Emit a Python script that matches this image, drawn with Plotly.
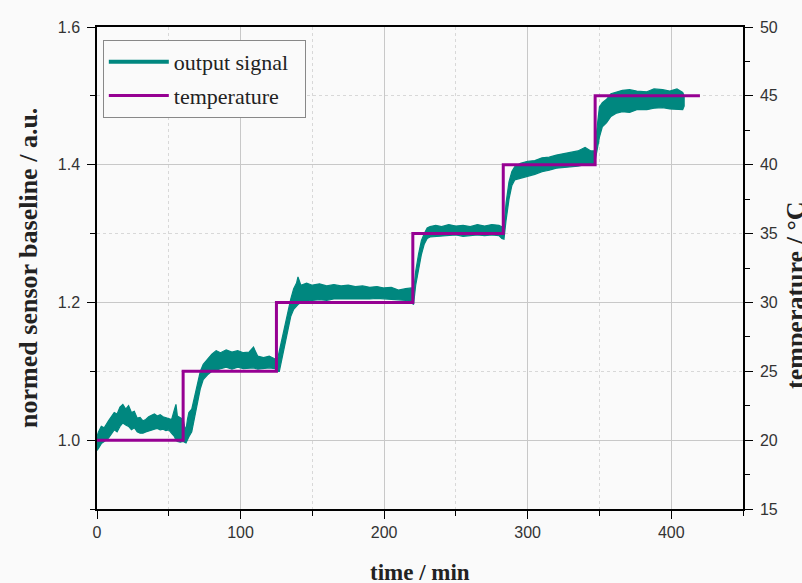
import plotly.graph_objects as go

# ---- data ----
temp_time = [0, 60, 125, 220, 283, 347, 420]
temp_vals = [20, 25, 30, 35, 40, 45, 45]

sig_time = [0, 1, 3, 5, 8, 10, 12, 14, 16, 18, 20, 22, 24, 26, 28, 30, 32, 34, 36, 38, 40,
            42, 44, 46, 48, 50, 52, 54, 55, 56, 58, 60, 61, 62, 63, 64, 66, 68, 70, 72, 74,
            77, 80, 83, 86, 90, 94, 98, 102, 106, 109, 112, 116, 120, 124, 125.5,
            127, 129, 131, 133, 135, 137, 139, 140, 142, 146, 150, 155, 160, 165, 170, 175,
            180, 185, 190, 195, 200, 205, 210, 215, 219, 220.5,
            222, 224, 226, 228, 230, 232, 236, 240, 245, 250, 255, 260, 265, 270, 275, 280,
            282, 283.5, 285, 287, 289, 291, 295, 300, 305, 310, 315, 320, 325, 330, 335, 340,
            344, 346.5, 348, 350, 352, 355, 358, 362, 366, 371, 376, 383, 388, 394, 399, 404,
            408, 409]
sig_upper = [1.005, 1.012, 1.020, 1.018, 1.028, 1.035, 1.040, 1.038, 1.048, 1.052, 1.045,
             1.050, 1.040, 1.042, 1.032, 1.033, 1.028, 1.030, 1.034, 1.036, 1.038,
             1.035, 1.037, 1.034, 1.033, 1.032, 1.030, 1.045, 1.052, 1.035, 1.032, 1.030,
             1.020, 1.015, 1.030, 1.040, 1.045, 1.065, 1.085, 1.100, 1.110,
             1.118, 1.125, 1.130, 1.127, 1.131, 1.128, 1.130, 1.127, 1.128, 1.135, 1.122,
             1.120, 1.122, 1.118, 1.115,
             1.130, 1.150, 1.170, 1.190, 1.205, 1.220, 1.228, 1.237, 1.225, 1.228, 1.225,
             1.227, 1.224, 1.226, 1.224, 1.225, 1.223, 1.224, 1.222, 1.223, 1.221, 1.222,
             1.218, 1.220, 1.221, 1.215,
             1.245, 1.270, 1.290, 1.300, 1.308, 1.310, 1.312, 1.310, 1.313, 1.311, 1.312,
             1.310, 1.313, 1.311, 1.313, 1.312, 1.310, 1.310,
             1.345, 1.375, 1.390, 1.397, 1.402, 1.405, 1.406, 1.410, 1.411, 1.414, 1.416,
             1.418, 1.420, 1.425, 1.420, 1.420,
             1.450, 1.484, 1.490, 1.495, 1.503, 1.505, 1.508, 1.509, 1.507, 1.506, 1.510,
             1.509, 1.507, 1.510, 1.505, 1.500]
sig_lower = [0.985, 0.988, 0.995, 0.998, 1.003, 1.008, 1.015, 1.012, 1.020, 1.025, 1.022,
             1.020, 1.015, 1.018, 1.012, 1.010, 1.010, 1.012, 1.013, 1.015, 1.016,
             1.017, 1.015, 1.016, 1.014, 1.015, 1.010, 1.005, 1.000, 0.998, 0.997, 0.998,
             0.997, 0.996, 1.000, 1.005, 1.012, 1.035, 1.055, 1.075, 1.088,
             1.095, 1.100, 1.102, 1.104, 1.106, 1.103, 1.106, 1.104, 1.105, 1.105, 1.103,
             1.104, 1.105, 1.104, 1.100,
             1.100, 1.120, 1.140, 1.160, 1.180, 1.190, 1.195, 1.197, 1.200, 1.202, 1.203,
             1.204, 1.203, 1.205, 1.204, 1.205, 1.204, 1.205, 1.205, 1.206, 1.205, 1.205,
             1.204, 1.203, 1.200, 1.197,
             1.225, 1.250, 1.270, 1.285, 1.293, 1.295, 1.296, 1.297, 1.297, 1.298, 1.296,
             1.297, 1.298, 1.297, 1.298, 1.297, 1.293, 1.292,
             1.320, 1.350, 1.370, 1.378, 1.381, 1.383, 1.386, 1.390, 1.392, 1.395, 1.396,
             1.397, 1.398, 1.400, 1.400, 1.400,
             1.420, 1.440, 1.455, 1.461, 1.470, 1.475, 1.477, 1.476, 1.480, 1.480, 1.482,
             1.483, 1.481, 1.480, 1.480, 1.485]

TEAL = "#00877f"
PURPLE = "#960092"
BG = "#fafafa"
SERIF = "Liberation Serif, DejaVu Serif, serif"
SANS = "Liberation Sans, Arial, sans-serif"
PAD = "\u00a0\u00a0"

fig = go.Figure()

# noisy signal band (upper envelope then lower envelope reversed)
band_x = list(sig_time) + list(reversed(sig_time))
band_y = list(sig_upper) + list(reversed(sig_lower))
fig.add_trace(go.Scatter(x=band_x, y=band_y, mode="lines", fill="toself",
                         fillcolor=TEAL, line=dict(color=TEAL, width=1.2),
                         showlegend=False, hoverinfo="skip"))
# legend entry for the signal
fig.add_trace(go.Scatter(x=[None], y=[None], mode="lines", name="output signal" + PAD,
                         line=dict(color=TEAL, width=4), legendgroup="a"))
# temperature on the secondary axis
fig.add_trace(go.Scatter(x=temp_time, y=temp_vals, mode="lines", name="temperature",
                         line=dict(color=PURPLE, width=3, shape="hv"),
                         yaxis="y2", legendgroup="b"))

axis_common = dict(showline=True, linecolor="black", linewidth=1.5,
                   ticks="outside", ticklen=8, tickwidth=1.3, tickcolor="black",
                   tickfont=dict(family=SANS, size=16, color="#333"), zeroline=False)

fig.update_layout(
    width=802, height=583,
    margin=dict(l=97, r=59, t=27, b=74),
    paper_bgcolor=BG, plot_bgcolor=BG,
    showlegend=True,
    legend=dict(x=0.009, y=0.973, xanchor="left", yanchor="top",
                bgcolor=BG, bordercolor="#888", borderwidth=1,
                font=dict(family=SERIF, size=22, color="#222"),
                itemwidth=60,
                traceorder="grouped", tracegroupgap=2),
    xaxis=dict(range=[0, 450], dtick=100, tick0=0, mirror=True,
               showgrid=True, gridcolor="#c8c8c8", gridwidth=1,
               minor=dict(dtick=50, ticks="outside", ticklen=5, tickcolor="black",
                          showgrid=True, gridcolor="#d8d8d8", griddash="dot"),
               **axis_common),
    yaxis=dict(range=[0.9, 1.6], dtick=0.2, tick0=1.0, tickformat=".1f",
               showgrid=True, gridcolor="#c8c8c8", gridwidth=1, ticklabelstandoff=4,
               minor=dict(dtick=0.1, ticks="outside", ticklen=5, tickcolor="black",
                          showgrid=True, gridcolor="#d8d8d8", griddash="dot"),
               **axis_common),
    yaxis2=dict(range=[15, 50], dtick=5, tick0=15, overlaying="y", side="right",
                showgrid=False, ticklabelstandoff=4,
                minor=dict(dtick=2.5, ticks="outside", ticklen=5, tickcolor="black"),
                **axis_common),
    annotations=[
        dict(text="<b>normed sensor baseline / a.u.</b>", xref="paper", yref="paper",
             x=-0.107, y=0.5, xanchor="center", yanchor="middle",
             textangle=-90, showarrow=False,
             font=dict(family=SERIF, size=26, color="#222")),
        dict(text="<b>time / min</b>", xref="paper", yref="paper",
             x=0.5, y=-0.131, xanchor="center", yanchor="middle", showarrow=False,
             font=dict(family=SERIF, size=23, color="#222")),
        dict(text="<b>temperature / °C</b>", xref="paper", yref="paper",
             x=1.082, y=0.444, xanchor="center", yanchor="middle",
             textangle=-90, showarrow=False,
             font=dict(family=SERIF, size=26, color="#222")),
    ],
)

fig.write_html("out.html", config={"displayModeBar": False},
               post_script="document.body.style.margin='0';document.body.style.overflow='hidden';")
